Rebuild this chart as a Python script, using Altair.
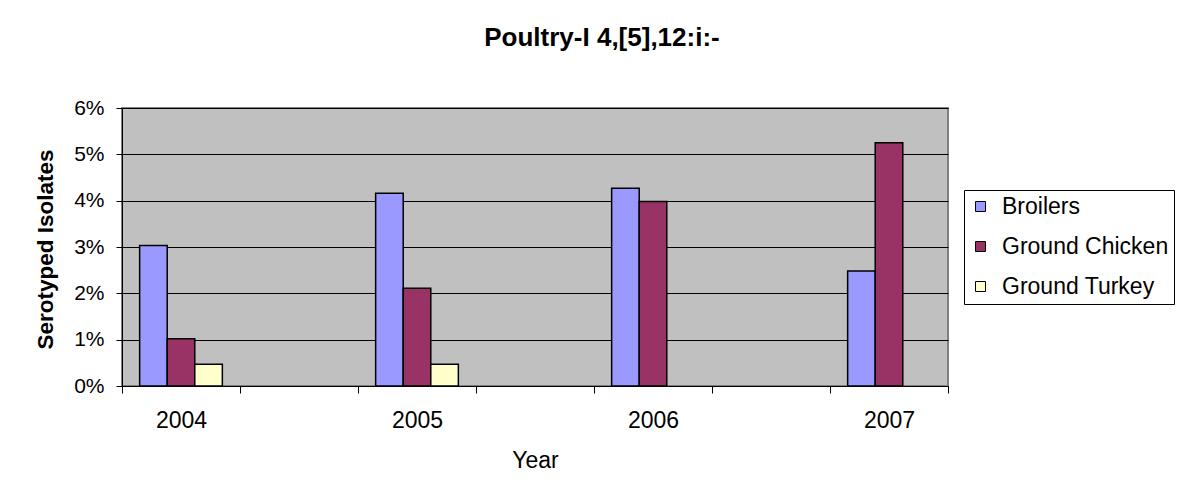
import altair as alt
import pandas as pd

years = ["2004", "2005", "2006", "2007"]
x_domain = ["2004", " ", "2005", "  ", "2006", "   ", "2007"]
series = ["Broilers", "Ground Chicken", "Ground Turkey"]
colors = ["#9999FF", "#993366", "#FFFFCC"]

broilers = [0.0303, 0.0416, 0.0427, 0.0248]
ground_chicken = [0.0102, 0.0211, 0.0398, 0.0525]
ground_turkey = [0.0047, 0.0047, None, None]

rows = []
for i, y in enumerate(years):
    for s, vals in zip(series, [broilers, ground_chicken, ground_turkey]):
        if vals[i] is not None:
            rows.append({"Year": y, "Series": s, "Value": vals[i]})
df = pd.DataFrame(rows)

FONT = "Liberation Sans"

chart = alt.Chart(df).mark_bar(stroke="black", strokeWidth=1.5).encode(
    x=alt.X("Year:N",
            scale=alt.Scale(domain=x_domain, paddingInner=0, paddingOuter=0),
            axis=alt.Axis(title="Year", labelAngle=0, tickBand="extent",
                          tickSize=7, tickColor="black", domainColor="black",
                          labelFontSize=23, labelPadding=16, labelColor="black",
                          titleFontSize=23, titleFontWeight="normal", titleColor="black",
                          titleX=413, titleY=74, titleBaseline="middle")),
    xOffset=alt.XOffset("Series:N",
                        scale=alt.Scale(domain=series, paddingInner=0, paddingOuter=0.64)),
    y=alt.Y("Value:Q",
            scale=alt.Scale(domain=[0, 0.06], nice=False),
            axis=alt.Axis(title="Serotyped Isolates", format=".0%",
                          values=[0, 0.01, 0.02, 0.03, 0.04, 0.05, 0.06],
                          grid=True, gridColor="black", gridWidth=1, gridOpacity=1,
                          tickSize=6, tickColor="black", domainColor="black",
                          labelFontSize=21, labelPadding=12, labelColor="black",
                          titleFontSize=22.5, titleFontWeight="bold", titleColor="black",
                          titleX=-77, titleY=141, titleBaseline="middle")),
    color=alt.Color("Series:N",
                    scale=alt.Scale(domain=series, range=colors),
                    legend=alt.Legend(title=None, orient="none", legendX=842, legendY=82,
                                      fillColor="white", strokeColor="black", padding=5,
                                      symbolType="square", symbolSize=100,
                                      symbolStrokeColor="black", symbolStrokeWidth=1,
                                      labelFontSize=23, labelColor="black", labelLimit=400,
                                      rowPadding=16, labelOffset=10)),
).properties(
    width=826,
    height=278,
    title=alt.Title("Poultry-I 4,[5],12:i:-", fontSize=26, fontWeight="bold",
                    color="black", anchor="middle", dx=67, offset=46),
    autosize=alt.AutoSizeParams(type="none"),
    padding={"left": 114, "top": 100, "right": 227, "bottom": 103},
).configure(font=FONT).configure_view(
    fill="#C0C0C0", stroke="#808080", strokeWidth=2
).configure_title(font=FONT).configure_axis(labelFont=FONT, titleFont=FONT).configure_legend(labelFont=FONT)

chart.save("out.html", embed_options={"renderer": "svg", "actions": False})
